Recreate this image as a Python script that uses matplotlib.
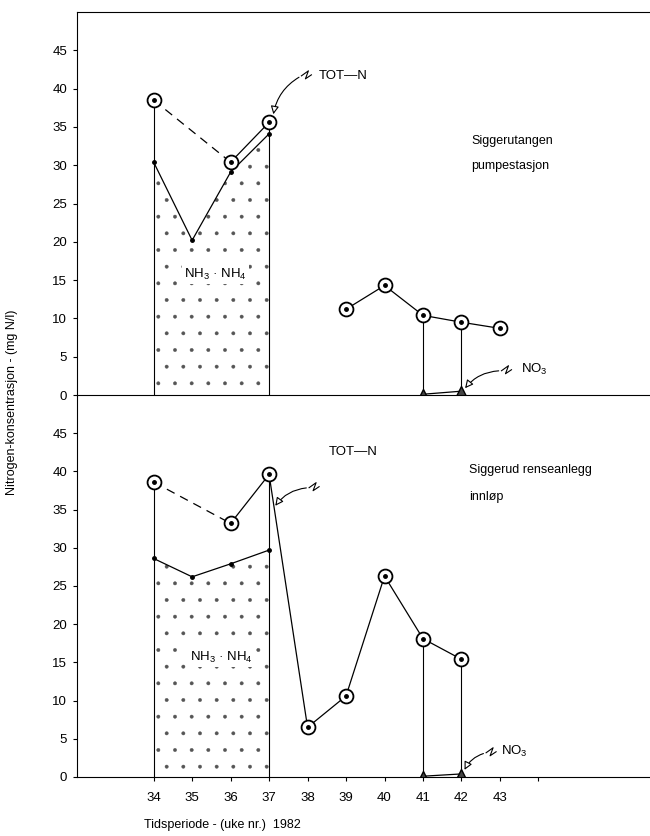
import numpy as np
import matplotlib
matplotlib.use("Agg")
import matplotlib.pyplot as plt

plt.rcParams['font.family'] = ['Liberation Sans', 'DejaVu Sans']
plt.rcParams['mathtext.fontset'] = 'custom'
plt.rcParams['mathtext.rm'] = 'Liberation Sans'
plt.rcParams['hatch.linewidth'] = 0.3

# =============================
# DATA
# =============================
weeks = np.array([34, 35, 36, 37, 38, 39, 40, 41, 42, 43])
nan = np.nan

# Siggerutangen pumpestasjon
top_tot = np.array([38.5, nan, 30.4, 35.6, nan, 11.2, 14.3, 10.4, 9.5, 8.7])
top_nh = np.array([30.4, 20.2, 29.1, 34.1])
top_no3 = np.array([0.1, 0.5])

# Siggerud renseanlegg innløp
bot_tot = np.array([38.6, nan, 33.2, 39.6, 6.5, 10.6, 26.3, 18.1, 15.4, nan])
bot_nh = np.array([28.6, 26.2, 27.9, 29.7])
bot_no3 = np.array([0.1, 0.4])

nh_weeks = weeks[:4]
no3_weeks = np.array([41, 42])
drop_weeks = [34, 37, 41, 42]

yticks = [0, 5, 10, 15, 20, 25, 30, 35, 40, 45]
xticks = [34, 35, 36, 37, 38, 39, 40, 41, 42, 43, 44]
xticklabels = ["34", "35", "36", "37", "38", "39", "40", "41", "42", "43", ""]

fig = plt.figure(figsize=(6.5, 8.36), dpi=100)
ax_top = fig.add_axes([0.118, 0.5275, 0.882, 0.4581])
ax_bot = fig.add_axes([0.118, 0.0706, 0.882, 0.4569])


def draw_panel(ax, tot, nh, no3):
    ax.patch.set_visible(False)
    # stippled NH3-NH4 area
    ax.fill_between(nh_weeks, 0, nh, facecolor='none', edgecolor='#555555',
                    hatch='.', linewidth=0)
    ax.plot(nh_weeks, nh, color='black', lw=0.9)
    ax.plot(nh_weeks, nh, 'o', color='black', ms=2.5)

    # drop lines
    for w in drop_weeks:
        i = list(weeks).index(w)
        ax.vlines(w, 0, tot[i], color='black', lw=0.8)

    # dashed bridge 34 -> 36
    ax.plot(weeks[[0, 2]], tot[[0, 2]], color='black', lw=0.9,
            dashes=(7, 5))
    ax.plot(weeks, tot, color='black', lw=0.9)
    ax.plot(weeks, tot, 'o', ms=10, mfc='white', mec='black', mew=1.3)
    ax.plot(weeks, tot, 'o', ms=2.5, color='black')

    # NO3
    ax.plot(no3_weeks, no3, color='black', lw=0.9)
    ax.plot(no3_weeks, no3, '^', ms=7, color='#444444', mec='black')

    ax.set_xlim(32, 46.9)
    ax.set_ylim(0, 50)
    ax.set_yticks(yticks)
    ax.tick_params(axis='y', direction='out', length=3, pad=4, labelsize=9.5)
    ax.spines['right'].set_visible(False)


def squiggle_arrow(ax, tip, tail):
    # small zigzag at the tail, then an open arrow to the tip
    p = ax.transData.transform(tail)
    zig = p + np.array([[0, 0], [-6, -4], [-3, 4], [-10, -1]])
    zig_data = ax.transData.inverted().transform(zig)
    ax.plot(zig_data[:, 0], zig_data[:, 1], color='black', lw=0.8)
    ax.annotate("", xy=tip, xytext=tuple(zig_data[-1]),
                arrowprops=dict(arrowstyle='-|>', color='black', lw=0.8,
                                fc='white', mutation_scale=12,
                                connectionstyle='arc3,rad=0.25'))


draw_panel(ax_top, top_tot, top_nh, top_no3)
draw_panel(ax_bot, bot_tot, bot_nh, bot_no3)

ax_top.set_xticks([])
ax_bot.spines['top'].set_visible(False)
ax_bot.set_xticks(xticks)
ax_bot.set_xticklabels(xticklabels)
ax_bot.tick_params(axis='x', direction='out', length=3, pad=8, labelsize=9.5)

# top panel texts
squiggle_arrow(ax_top, (37.1, 36.3), (38.1, 41.8))
ax_top.text(38.3, 41.7, "TOT—N", fontsize=9.5, va='center')
ax_top.text(35.6, 15.8, r"NH$_3$ · NH$_4$", fontsize=9.5, ha='center', va='center',
            zorder=5, bbox=dict(facecolor='white', edgecolor='none', pad=1.5))
ax_top.text(42.25, 33.2, "Siggerutangen", fontsize=9, va='center')
ax_top.text(42.25, 29.9, "pumpestasjon", fontsize=9, va='center')
squiggle_arrow(ax_top, (42.05, 0.6), (43.3, 3.3))
ax_top.text(43.55, 3.3, r"NO$_3$", fontsize=9.5, va='center')

# bottom panel texts
squiggle_arrow(ax_bot, (37.12, 35.2), (38.3, 38.0))
ax_bot.text(38.56, 42.5, "TOT—N", fontsize=9.5, va='center')
ax_bot.text(35.77, 15.7, r"NH$_3$ · NH$_4$", fontsize=9.5, ha='center', va='center',
            zorder=5, bbox=dict(facecolor='white', edgecolor='none', pad=1.5))
ax_bot.text(42.2, 40.2, "Siggerud renseanlegg", fontsize=9, va='center')
ax_bot.text(42.2, 36.6, "innløp", fontsize=9, va='center')
squiggle_arrow(ax_bot, (42.05, 0.6), (42.9, 3.3))
ax_bot.text(43.04, 3.3, r"NO$_3$", fontsize=9.5, va='center')

fig.text(0.018, 1 - 402 / 836, "Nitrogen-konsentrasjon - (mg N/l)",
         rotation=90, ha='center', va='center', fontsize=9)
fig.text(222 / 650, 1 - 825 / 836, "Tidsperiode - (uke nr.)  1982",
         ha='center', va='center', fontsize=9)

fig.savefig("out.png", dpi=100)
